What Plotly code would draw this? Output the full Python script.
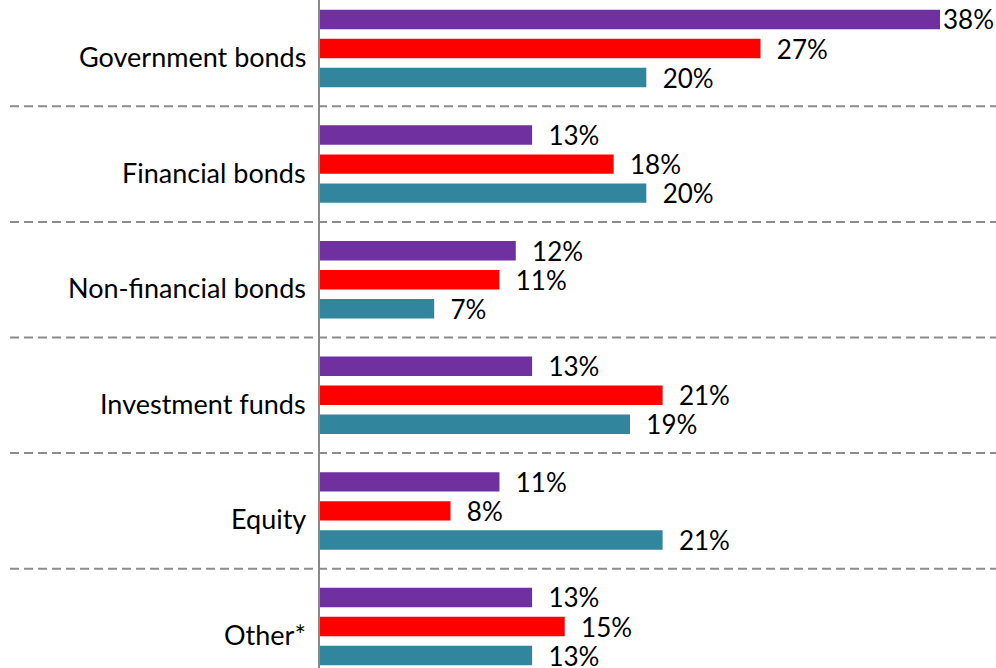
import plotly.graph_objects as go

categories = ["Government bonds", "Financial bonds", "Non-financial bonds",
              "Investment funds", "Equity", "Other*"]
series_purple = [38, 13, 12, 13, 11, 13]
series_red = [27, 18, 11, 21, 8, 15]
series_teal = [20, 20, 7, 19, 21, 13]

colors = ["#7030A0", "#FF0000", "#31859C"]
FONT = "Lato"
W, H = 996, 668
L = 320

fig = go.Figure()
for vals, col in zip([series_purple, series_red, series_teal], colors):
    fig.add_trace(go.Bar(
        y=categories, x=vals, orientation="h",
        marker=dict(color=col, line=dict(width=0)),
        text=[f"{v}%" for v in vals],
        texttemplate=["%{text}" if v >= 35 else "  %{text}" for v in vals],
        textposition="outside", cliponaxis=False, constraintext="none",
        textfont=dict(family=FONT, size=26, color="#000000"),
        hoverinfo="skip",
    ))

# x scale: 0 at left edge, ~16.32 px per percent
px_per = 620 / 38
xmax = (W - L) / px_per

# y: category pitch ~115.6 px, first category centre at ~48.5 px
pitch = 115.6
ytop = -48.5 / pitch
ybot = (len(categories) - 1) + (H - 626.5) / pitch

fig.update_layout(
    width=W, height=H,
    margin=dict(l=L, r=0, t=0, b=0),
    barmode="group", bargap=0.247, bargroupgap=0.33,
    plot_bgcolor="white", paper_bgcolor="white",
    showlegend=False,
    xaxis=dict(range=[0, xmax], visible=False, fixedrange=True),
    yaxis=dict(
        type="category", range=[ybot, ytop],
        showline=True, linecolor="#888888", linewidth=2,
        showgrid=False, zeroline=False, ticks="",
        showticklabels=False,
    ),
)

# category labels (sit slightly below group centre, as in the reference)
for cat in categories:
    fig.add_annotation(x=0, xref="paper", y=cat, yref="y",
                       text=cat, showarrow=False, xanchor="right",
                       xshift=-12, yshift=-8,
                       font=dict(family=FONT, size=27, color="#000000"))

# dashed separators between categories
x0_paper = (10 - L) / (W - L)
for k in range(len(categories) - 1):
    fig.add_shape(type="line", xref="paper", yref="y",
                  x0=x0_paper, x1=1, y0=k + 0.5, y1=k + 0.5,
                  line=dict(color="#8C8C8C", width=2, dash="9px,5px"),
                  layer="below")

fig.write_html("out.html",
               config={"displayModeBar": False},
               post_script="document.body.style.margin='0';document.body.style.overflow='hidden';")
